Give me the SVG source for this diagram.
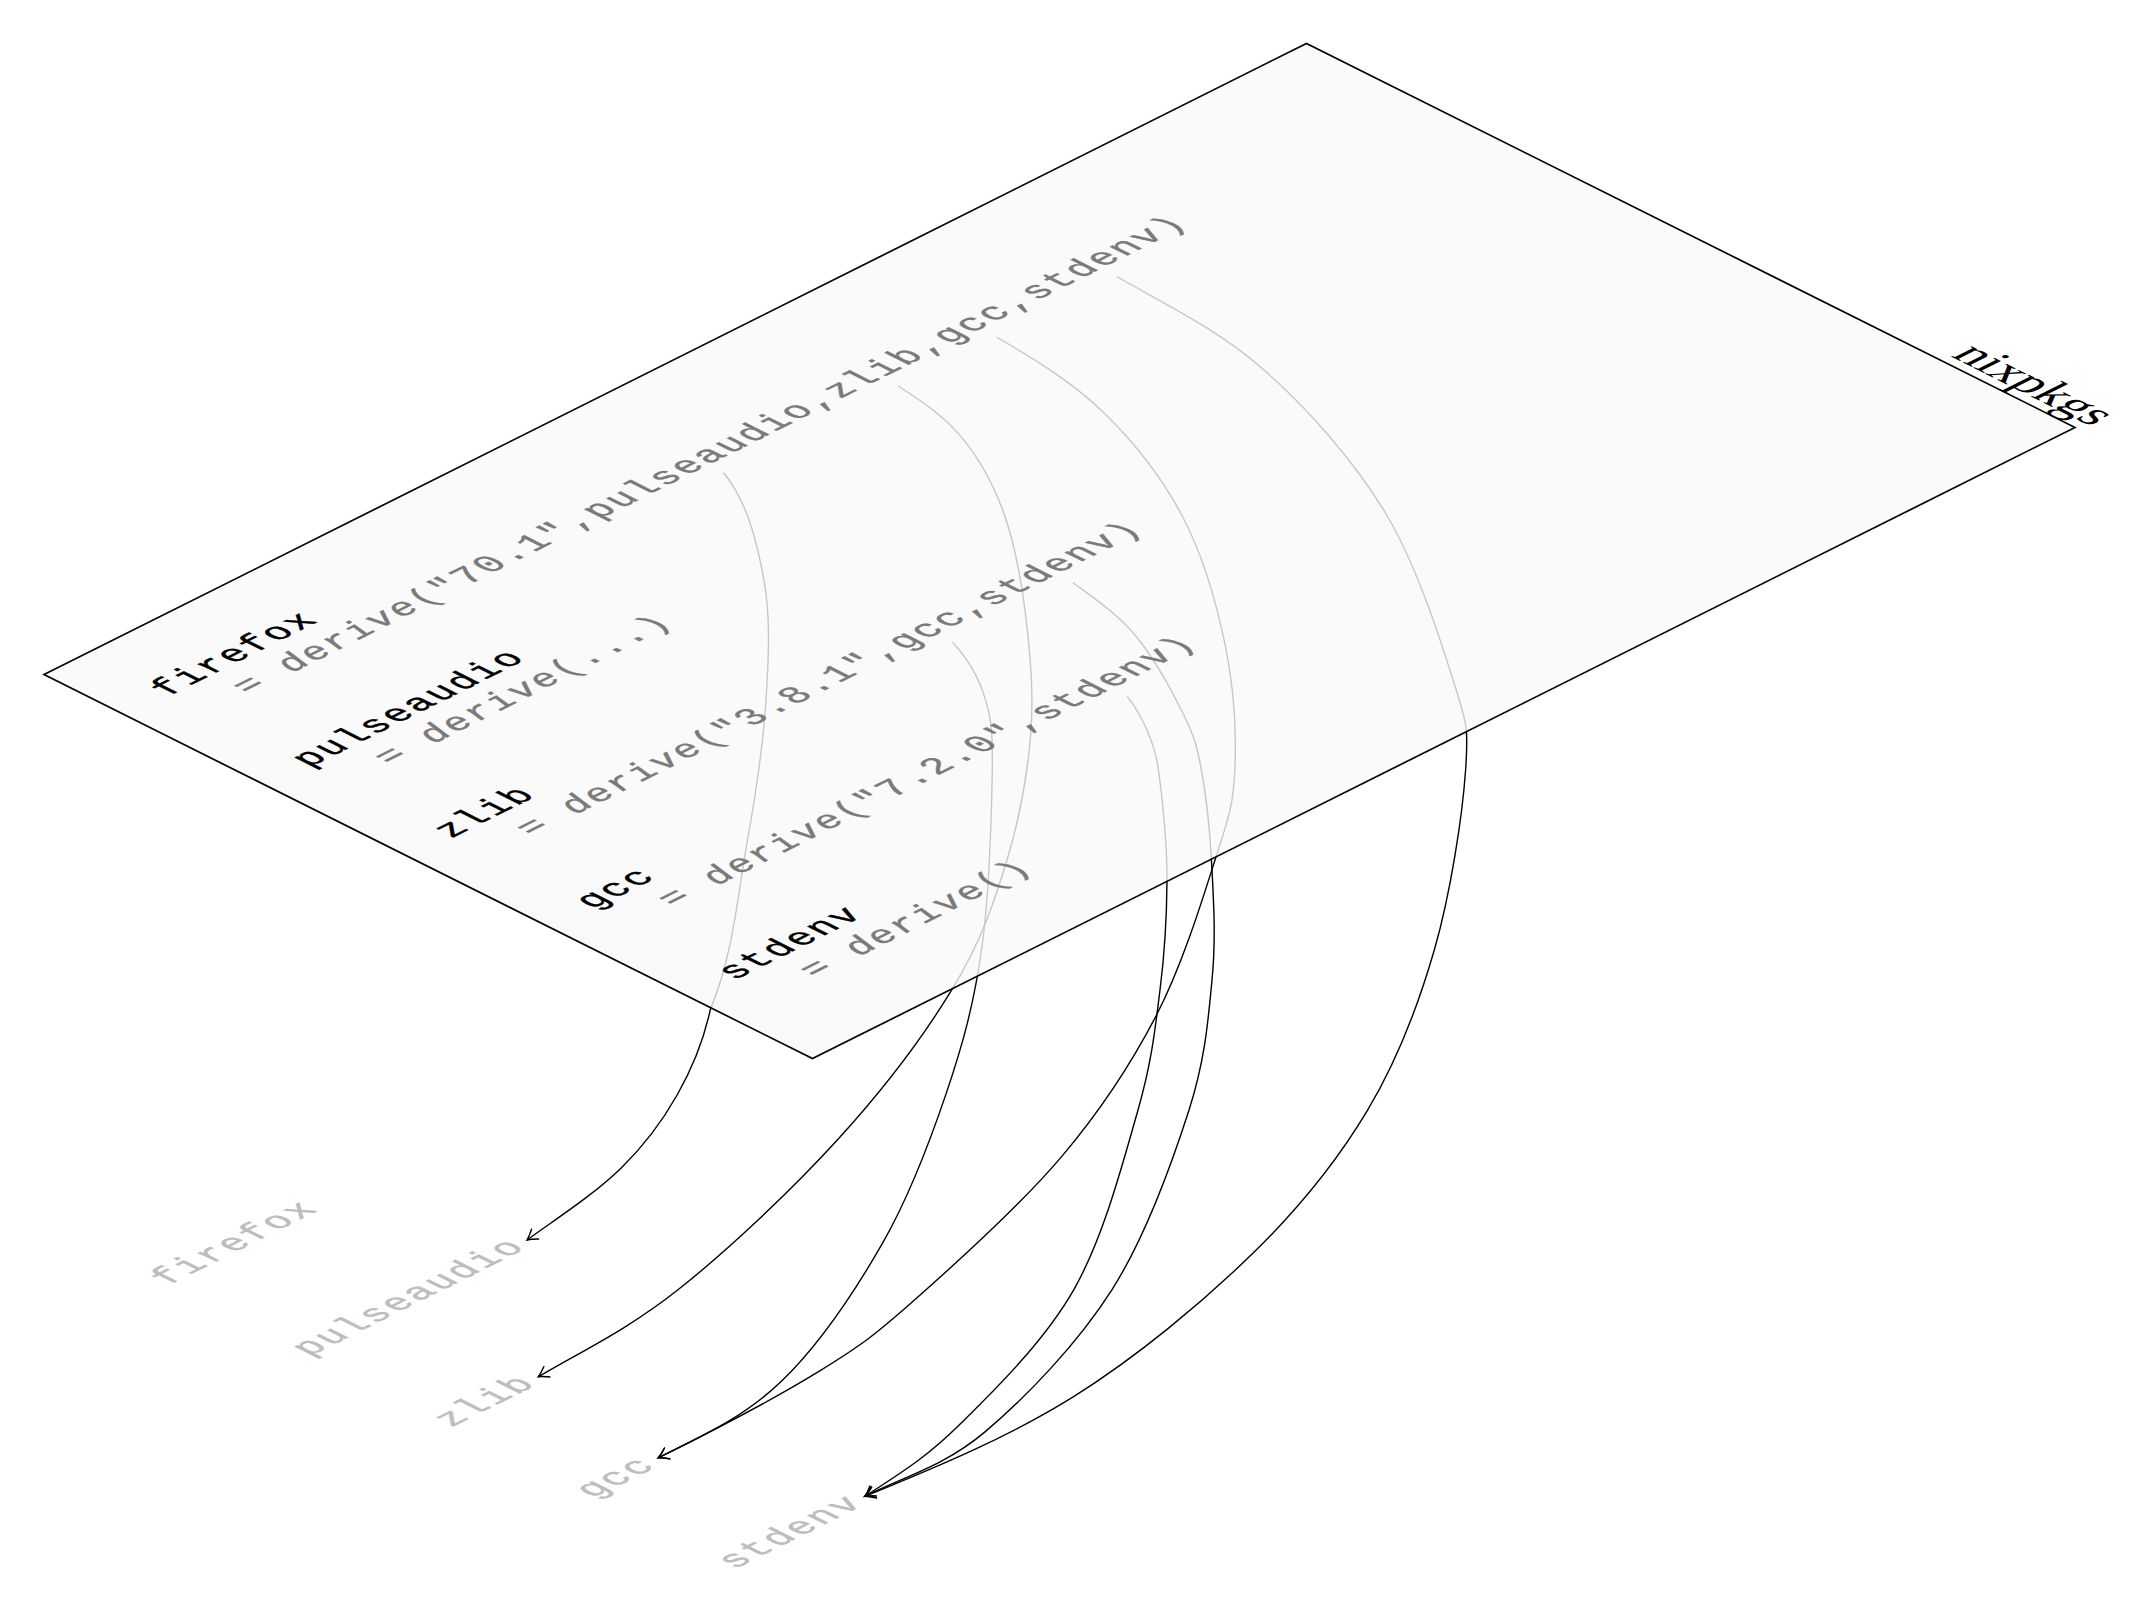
<svg xmlns="http://www.w3.org/2000/svg" width="2150" height="1613" viewBox="0 0 2150 1613">
<defs>
<style>
.mono{font-family:"Liberation Mono","DejaVu Sans Mono",monospace;font-size:37px;letter-spacing:2.28px}
.name{fill:#000;stroke:#000;stroke-width:0.5}
.expr{fill:#7a7a7a;stroke:#7a7a7a;stroke-width:0.5}
.ghost{fill:#bdbdbd;stroke:#bdbdbd;stroke-width:0.5}
.it{font-style:italic}
.dep{fill:none;stroke:#000;stroke-width:1.4;marker-end:url(#arr)}
.plane{fill:#f9f9f9;fill-opacity:0.8;stroke:#000;stroke-width:1.7;stroke-linejoin:miter}
.lbl{font-family:"Liberation Serif","DejaVu Serif",serif;font-size:50px;fill:#000}
</style>
<marker id="arr" viewBox="-12 -8 14 16" refX="0" refY="0" markerWidth="14" markerHeight="16" markerUnits="userSpaceOnUse" orient="auto">
<path d="M-10,-6 Q-4,-1.6 0,0 Q-4,1.6 -10,6" fill="none" stroke="#000" stroke-width="1.4" stroke-linecap="round"/>
</marker>
</defs>
<rect width="2150" height="1613" fill="#fff"/>
<g id="connectors">
<path class="dep" d="M723.4,472.5 C747.2,501.6 756.5,540.1 763.6,578 C770.7,615.9 768.8,655.8 766,700 C763.2,744.2 756.3,791.5 747,843 C737.8,894.5 733.1,955.1 710.5,1008.9 C697.9,1067.6 664.3,1126.2 621.2,1167.9 C592.8,1195.4 559,1216.8 527,1240"/>
<path class="dep" d="M898.1,386 C920.6,400.4 943.1,415.4 960.6,436.1 C978.1,456.9 992.1,481.2 1002.9,510.5 C1013.7,539.8 1020.5,575.3 1025.2,611.9 C1029.9,648.5 1034,688.7 1031,730 C1028,771.4 1020,817 1007,860 C994,903 981,941.7 952.8,988.2 C924.6,1034.8 883.7,1089.1 838,1139.3 C792.3,1189.5 728.6,1249.7 678.6,1289.3 C628.7,1328.9 585.9,1349 538.3,1376.8"/>
<path class="dep" d="M952.6,642.3 C966.7,657.7 977.8,675.1 984.4,696.4 C991,717.7 992.8,727.7 992.3,770 C991.8,812.3 989.2,896.2 981.5,950 C973.9,1003.8 962.9,1044.1 946.4,1092.9 C929.9,1141.7 910.3,1194.7 882.7,1242.9 C855.1,1291.1 818,1346.3 780.6,1382.1 C743.2,1417.9 701.1,1436.4 658.2,1457.9"/>
<path class="dep" d="M996.6,337 C1034.3,359 1072.5,382.4 1103.5,412.4 C1134.6,442.4 1162.6,478.3 1182.9,517.2 C1203.2,556.1 1216.7,603.6 1225.3,645.7 C1234,687.8 1236.4,734.8 1234.8,770 C1233.3,805.2 1229,816.3 1216,857 C1203,897.7 1182.7,964.3 1156.9,1014.3 C1131.1,1064.3 1101.6,1109.5 1061.2,1157.1 C1020.8,1204.7 954.9,1264.3 914.5,1300 C874.1,1335.7 861.6,1345.1 818.9,1371.4 C776.2,1397.7 712.7,1431 658.2,1457.9"/>
<path class="dep" d="M1116.7,276.5 C1166.5,305 1217.8,329.5 1262.3,368.5 C1306.9,407.5 1352.2,458.7 1384,510.5 C1415.8,562.3 1439.3,636.3 1452.9,679.5 C1466.5,722.8 1468.7,724.9 1465.6,770 C1462.5,815.1 1450.7,893.2 1434.3,950 C1417.9,1006.8 1397.6,1060.1 1367.3,1110.7 C1337,1161.3 1301.5,1206 1252.6,1253.6 C1203.7,1301.2 1138.6,1355.9 1074,1396.4 C1009.4,1436.9 936.4,1467.2 864.8,1496.4"/>
<path class="dep" d="M1072.8,582.5 C1094.7,598.7 1117,613.7 1135.3,635.5 C1153.7,657.3 1171.9,690.9 1182.9,713.3 C1193.9,735.7 1196.6,743.9 1201.4,770 C1206.3,796.1 1210.2,835 1212,870 C1213.8,905 1215.9,939.9 1212,980 C1208.1,1020.1 1205.4,1059.2 1188.8,1110.7 C1172.2,1162.3 1146.2,1235.8 1112.2,1289.3 C1078.2,1342.9 1025.9,1397.6 984.7,1432.1 C943.5,1466.6 905.3,1476.1 864.8,1496.4"/>
<path class="dep" d="M1127.3,696.4 C1137.6,709.4 1145.5,724.7 1151.1,740.3 C1156.7,755.9 1158.4,766.7 1161,790 C1163.7,813.3 1167.2,846.7 1167,880 C1166.8,913.3 1164.9,951.6 1160,990 C1155.1,1028.5 1152.1,1060.8 1137.8,1110.7 C1123.5,1160.6 1103.8,1236.9 1074,1289.3 C1044.2,1341.7 994.1,1390.5 959.2,1425 C924.3,1459.5 897.8,1474.7 864.8,1496.4"/>
</g>
<g id="nixpkgs">
<polygon class="plane" points="44,674.6 1306.5,43.4 2075,427.4 812.5,1058.6"/>
<text class="lbl" transform="matrix(0.8944 0.4472 -0.8944 0.4472 1950 356)">nixpkgs</text>
</g>
<g id="plane-entries" transform="matrix(0.8944 -0.4472 0.8944 0.4472 44 674.6)">
<g id="firefox"><text class="mono name" x="44" y="94">firefox</text><text class="mono expr" x="92" y="137">= <tspan class="it">derive</tspan>("70.1",pulseaudio,zlib,gcc,stdenv)</text></g>
<g id="pulseaudio"><text class="mono name" x="44" y="252.5">pulseaudio</text><text class="mono expr" x="92" y="295.5">= <tspan class="it">derive</tspan>(...)</text></g>
<g id="zlib"><text class="mono name" x="44" y="411">zlib</text><text class="mono expr" x="92" y="454">= <tspan class="it">derive</tspan>("3.8.1",gcc,stdenv)</text></g>
<g id="gcc"><text class="mono name" x="44" y="569.5">gcc</text><text class="mono expr" x="92" y="612.5">= <tspan class="it">derive</tspan>("7.2.0",stdenv)</text></g>
<g id="stdenv"><text class="mono name" x="44" y="728">stdenv</text><text class="mono expr" x="92" y="771">= <tspan class="it">derive</tspan>()</text></g>
</g>
<g id="outputs" transform="matrix(0.8944 -0.4472 0.8944 0.4472 44 1263.6)">
<g id="out-firefox"><text class="mono ghost" x="44" y="94">firefox</text></g>
<g id="out-pulseaudio"><text class="mono ghost" x="44" y="252.5">pulseaudio</text></g>
<g id="out-zlib"><text class="mono ghost" x="44" y="411">zlib</text></g>
<g id="out-gcc"><text class="mono ghost" x="44" y="569.5">gcc</text></g>
<g id="out-stdenv"><text class="mono ghost" x="44" y="728">stdenv</text></g>
</g>
</svg>
